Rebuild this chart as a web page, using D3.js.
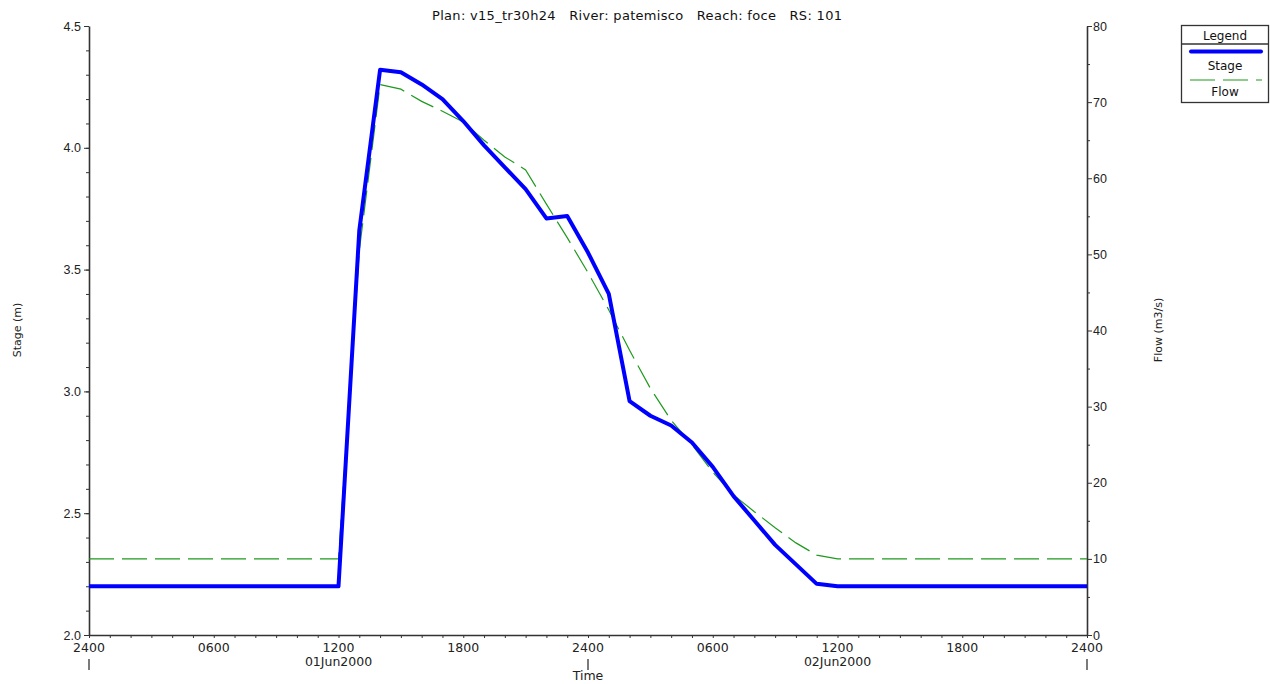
<!DOCTYPE html>
<html>
<head>
<meta charset="utf-8">
<script src="https://cdn.jsdelivr.net/npm/d3@7"></script>
<style>
  html, body { margin: 0; padding: 0; background: #fff; }
  svg { display: block; font-family: "DejaVu Sans", "Liberation Sans", Arial, sans-serif; }
  .axis path, .axis line { stroke: #333; }
  .axis text { fill: #222; font-size: 12.5px; }
</style>
</head>
<body>
<svg id="chart" width="1270" height="684"></svg>
<script>
// Hydrograph at RS 101: hours since 31May2000 2400, stage (m) and flow (m3/s)
const hours = [0, 12, 13, 14, 15, 16, 17, 18, 19, 20, 21, 22, 23, 24,
               25, 26, 27, 28, 29, 30, 31, 32, 33, 34, 35, 36, 48];
const stage = [2.20, 2.20, 3.66, 4.32, 4.31, 4.26, 4.20, 4.11, 4.01, 3.92, 3.83, 3.71, 3.72, 3.57,
               3.40, 2.96, 2.90, 2.86, 2.79, 2.69, 2.57, 2.47, 2.37, 2.29, 2.21, 2.20, 2.20];
const flow = [10, 10, 50.5, 72.3, 71.7, 70.1, 68.8, 67.4, 65.0, 62.8, 61.1, 56.6, 52.2, 47.6,
              42.7, 37.4, 32.4, 28.2, 25.0, 21.4, 18.4, 16.2, 14.1, 12.1, 10.5, 10, 10];

const stageTicks = [2.0, 2.5, 3.0, 3.5, 4.0, 4.5];
const flowTicks = [0, 10, 20, 30, 40, 50, 60, 70, 80];
const timeTickHours = [0, 6, 12, 18, 24, 30, 36, 42, 48];
const timeTickLabels = ["2400", "0600", "1200", "1800", "2400", "0600", "1200", "1800", "2400"];
const dateLabelHours = [12, 36];
const dateLabels = ["01Jun2000", "02Jun2000"];
const dayMarkHours = [0, 24, 48];

const titleText = "Plan: v15_tr30h24   River: patemisco   Reach: foce   RS: 101";
const seriesNames = ["Stage", "Flow"];

const plotLeft = 89, plotRight = 1087, plotTop = 26, plotBottom = 635;

const svg = d3.select("#chart");

const x = d3.scaleLinear().domain([0, 48]).range([plotLeft, plotRight]);
const yS = d3.scaleLinear().domain([2.0, 4.5]).range([plotBottom, plotTop]);
const yF = d3.scaleLinear().domain([0, 80]).range([plotBottom, plotTop]);

// Title
svg.append("text")
  .attr("x", 637).attr("y", 20)
  .attr("text-anchor", "middle")
  .attr("textLength", 410).attr("lengthAdjust", "spacing")
  .style("font-size", "13px").style("fill", "#111")
  .style("white-space", "pre")
  .text(titleText);

// Left axis (stage)
svg.append("g").attr("class", "axis")
  .attr("transform", `translate(${plotLeft},0)`)
  .call(d3.axisLeft(yS).tickValues(d3.range(2.1, 4.45, 0.1)).tickSize(3).tickFormat(""))
  .call(g => g.select(".domain").remove());
svg.append("g").attr("class", "axis")
  .attr("transform", `translate(${plotLeft},0)`)
  .call(d3.axisLeft(yS).tickValues(stageTicks).tickSize(5).tickSizeOuter(0).tickPadding(3)
        .tickFormat(d3.format(".1f")))
  .call(g => g.select(".domain").attr("stroke-width", 1.6));

// Right axis (flow)
svg.append("g").attr("class", "axis")
  .attr("transform", `translate(${plotRight},0)`)
  .call(d3.axisRight(yF).tickValues(d3.range(5, 80, 10)).tickSize(3).tickFormat(""))
  .call(g => g.select(".domain").remove());
svg.append("g").attr("class", "axis")
  .attr("transform", `translate(${plotRight},0)`)
  .call(d3.axisRight(yF).tickValues(flowTicks).tickSize(5).tickSizeOuter(0).tickPadding(1)
        .tickFormat(d3.format("d")))
  .call(g => g.select(".domain").attr("stroke-width", 1.6));

// Bottom axis (time): hourly ticks
svg.append("g").attr("class", "axis")
  .attr("transform", `translate(0,${plotBottom})`)
  .call(d3.axisBottom(x).tickValues(d3.range(0, 49, 1)).tickSize(3).tickSizeOuter(0).tickFormat(""))
  .call(g => g.select(".domain").attr("stroke-width", 1.6));

const tl = svg.append("g").style("font-size", "12.5px").style("fill", "#222");
tl.selectAll("text.hh").data(timeTickHours).join("text")
  .attr("class", "hh")
  .attr("x", d => x(d)).attr("y", 652)
  .attr("text-anchor", "middle")
  .text((d, i) => timeTickLabels[i]);
tl.selectAll("text.dd").data(dateLabelHours).join("text")
  .attr("class", "dd")
  .attr("x", d => x(d)).attr("y", 666)
  .attr("text-anchor", "middle")
  .text((d, i) => dateLabels[i]);
svg.append("g").selectAll("line").data(dayMarkHours).join("line")
  .attr("x1", d => x(d)).attr("x2", d => x(d))
  .attr("y1", 659).attr("y2", 670)
  .attr("stroke", "#333").attr("stroke-width", 1.3);
tl.append("text")
  .attr("x", x(24)).attr("y", 680)
  .attr("text-anchor", "middle")
  .text("Time");

// Axis titles
svg.append("text")
  .attr("transform", `translate(21,330) rotate(-90)`)
  .attr("text-anchor", "middle")
  .style("font-size", "11px").style("fill", "#222")
  .text("Stage (m)");
svg.append("text")
  .attr("transform", `translate(1162,330) rotate(-90)`)
  .attr("text-anchor", "middle")
  .style("font-size", "11px").style("fill", "#222")
  .text("Flow (m3/s)");

// Series
const flowLine = d3.line().x((d, i) => x(hours[i])).y(d => yF(d));
const stageLine = d3.line().x((d, i) => x(hours[i])).y(d => yS(d));

svg.append("path")
  .datum(flow)
  .attr("d", flowLine)
  .attr("fill", "none")
  .attr("stroke", "#1e9a1e")
  .attr("stroke-width", 1.2)
  .attr("stroke-dasharray", "25,8");

svg.append("path")
  .datum(stage)
  .attr("d", stageLine)
  .attr("fill", "none")
  .attr("stroke", "#0000ff")
  .attr("stroke-width", 4)
  .attr("stroke-linejoin", "round");

// Legend
const lg = svg.append("g");
lg.append("rect")
  .attr("x", 1181.5).attr("y", 25.5).attr("width", 87).attr("height", 77)
  .attr("fill", "#fff").attr("stroke", "#333").attr("stroke-width", 1.3);
lg.append("line")
  .attr("x1", 1181.5).attr("x2", 1268.5).attr("y1", 44).attr("y2", 44)
  .attr("stroke", "#333").attr("stroke-width", 1.3);
lg.append("text")
  .attr("x", 1225).attr("y", 40).attr("text-anchor", "middle")
  .style("font-size", "12px").style("fill", "#111").text("Legend");
lg.append("line")
  .attr("x1", 1191).attr("x2", 1261).attr("y1", 51.5).attr("y2", 51.5)
  .attr("stroke", "#0000ff").attr("stroke-width", 4).attr("stroke-linecap", "round");
lg.append("text")
  .attr("x", 1225).attr("y", 70).attr("text-anchor", "middle")
  .style("font-size", "12px").style("fill", "#111").text(seriesNames[0]);
lg.append("line")
  .attr("x1", 1190).attr("x2", 1262).attr("y1", 80).attr("y2", 80)
  .attr("stroke", "#1e9a1e").attr("stroke-width", 1.2).attr("stroke-dasharray", "25,8");
lg.append("text")
  .attr("x", 1225).attr("y", 96).attr("text-anchor", "middle")
  .style("font-size", "12px").style("fill", "#111").text(seriesNames[1]);
</script>
</body>
</html>
